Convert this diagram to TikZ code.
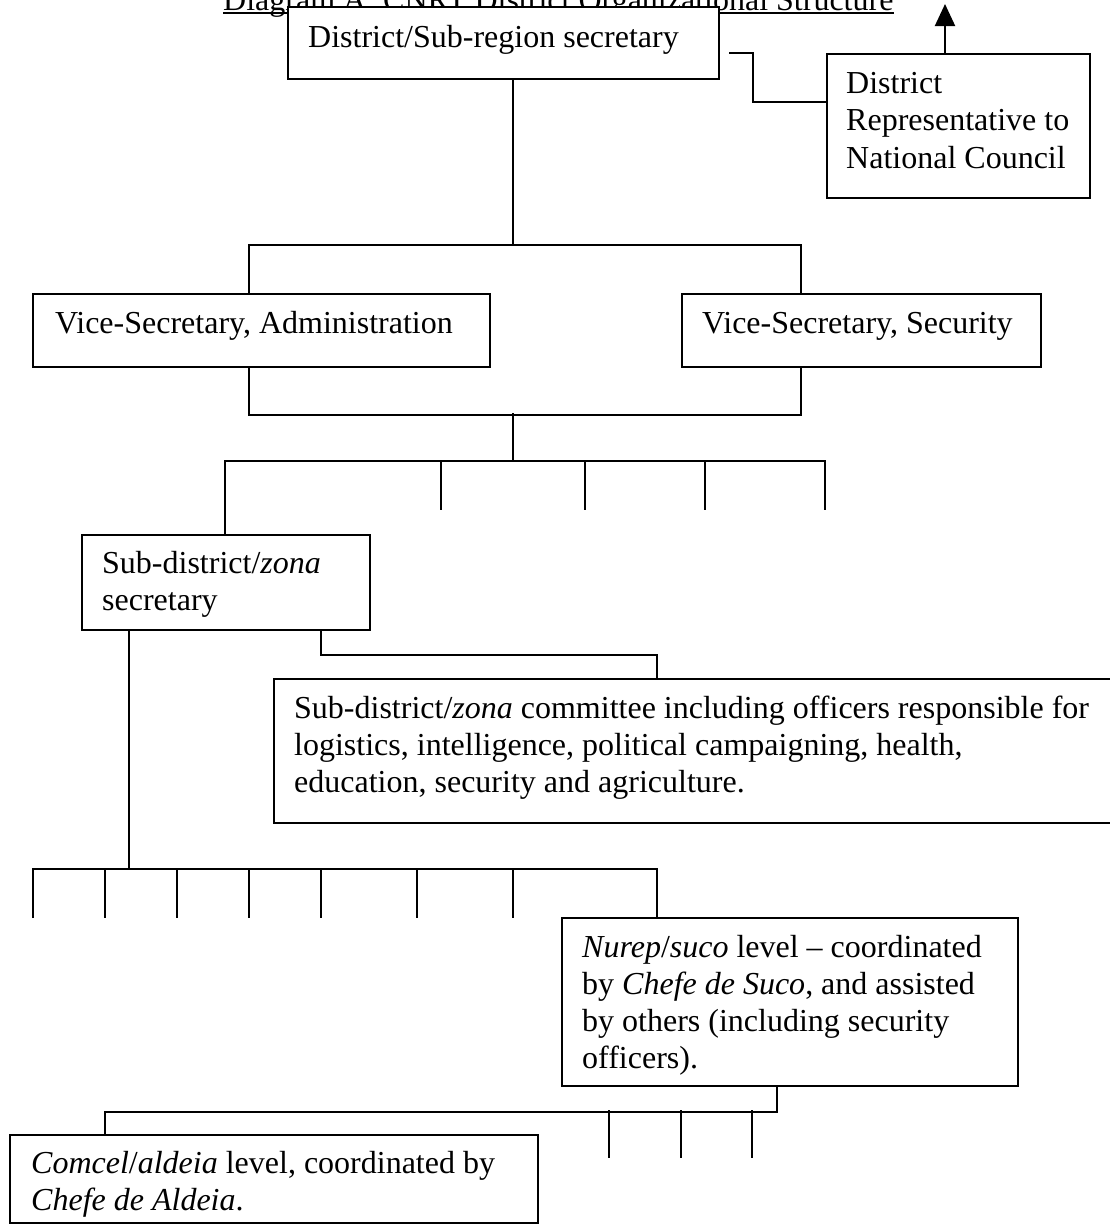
\documentclass[tikz,border=0pt]{standalone}
\usepackage{fontspec}
\setmainfont{Liberation Serif}
\usetikzlibrary{arrows.meta}
\tikzset{
  orgbox/.style={draw, line width=2pt, fill=white, rectangle, inner sep=0pt, anchor=north west},
  txt/.style={inner sep=0pt, anchor=base west, font=\fontsize{32}{37}\selectfont},
  conn/.style={line width=2pt},
}
\begin{document}
\begin{tikzpicture}[x=1pt,y=-1pt]
\useasboundingbox (0,0) rectangle (1110,1224);
% title (partly hidden, as in the reference)
\node[txt] (title) at (223,10) {Diagram A: CNRT District Organizational Structure};
\draw[line width=1.6pt] ([yshift=-3pt]title.base west) -- ([yshift=-3pt]title.base east);
% boxes
\node[orgbox, minimum width=431pt, minimum height=72pt] (top) at (287,6) {};
\node[orgbox, minimum width=263pt, minimum height=144pt] (dr) at (826,53) {};
\node[orgbox, minimum width=457pt, minimum height=73pt] (vsa) at (32,293) {};
\node[orgbox, minimum width=359pt, minimum height=73pt] (vss) at (681,293) {};
\node[orgbox, minimum width=288pt, minimum height=95pt] (sub) at (81,534) {};
\node[orgbox, minimum width=842pt, minimum height=144pt] (com) at (273,678) {};
\node[orgbox, minimum width=456pt, minimum height=168pt] (nur) at (561,917) {};
\node[orgbox, minimum width=528pt, minimum height=88pt] (cel) at (9,1134) {};
% texts
\node[txt] (t0) at (308,47) {District/Sub-region secretary};
\node[txt] (dr1) at (846,93) {District};
\node[txt] (dr2) at (846,130.5) {Representative to};
\node[txt] (dr3) at (846,168) {National Council};
\node[txt] (va) at (55,333) {Vice-Secretary, Administration};
\node[txt] (vs) at (702,333) {Vice-Secretary, Security};
\node[txt] (s1) at (102,573) {Sub-district/\textit{zona}};
\node[txt] (s2) at (102,610) {secretary};
\node[txt] (c1) at (294,718) {Sub-district/\textit{zona} committee including officers responsible for};
\node[txt] (c2) at (294,755) {logistics, intelligence, political campaigning, health,};
\node[txt] (c3) at (294,792) {education, security and agriculture.};
\node[txt] (n1) at (582,957) {\textit{Nurep}/\textit{suco} level -- coordinated};
\node[txt] (n2) at (582,994) {by \textit{Chefe de Suco}, and assisted};
\node[txt] (n3) at (582,1031) {by others (including security};
\node[txt] (n4) at (582,1068) {officers).};
\node[txt] (a1) at (31,1173) {\textit{Comcel}/\textit{aldeia} level, coordinated by};
\node[txt] (a2) at (31,1210) {\textit{Chefe de Aldeia}.};
% connectors
\coordinate (arrowtip) at (945,4);
\draw[conn, -{Triangle[length=22pt,width=20pt]}] ([xshift=119pt]dr.north west) -- (arrowtip);
\coordinate (stub) at (729,53);
\draw[conn] (stub) -- (753,53) |- ([yshift=24pt]dr.west);
\coordinate (h1) at (513,245);
\draw[conn] ([xshift=226pt]top.south west) -- (h1);
\draw[conn] ([xshift=217pt]vsa.north west) -- ++(0,-48) -| ([xshift=120pt]vss.north west);
\draw[conn] ([xshift=217pt]vsa.south west) -- ++(0,47) -| ([xshift=120pt]vss.south west);
\coordinate (h2) at (513,413);
\coordinate (h3) at (513,461);
\draw[conn] (h2) -- (h3);
\draw[conn] ([xshift=144pt]sub.north west) -- (225,461) -- (825,461) -- (825,510);
\foreach \x in {441,585,705} \draw[conn] (\x,461) -- (\x,510);
\draw[conn] ([xshift=240pt]sub.south west) -- ++(0,24) -| ([xshift=384pt]com.north west);
\coordinate (h4) at (129,869);
\draw[conn] ([xshift=48pt]sub.south west) -- (h4);
\draw[conn] (33,918) -- (33,869) -| ([xshift=96pt]nur.north west);
\foreach \x in {105,177,249,321,417,513} \draw[conn] (\x,869) -- (\x,918);
\draw[conn] ([xshift=216pt]nur.south west) -- ++(0,25) -| ([xshift=96pt]cel.north west);
\foreach \x in {609,681,752} \draw[conn] (\x,1110) -- (\x,1158);
\end{tikzpicture}
\end{document}
